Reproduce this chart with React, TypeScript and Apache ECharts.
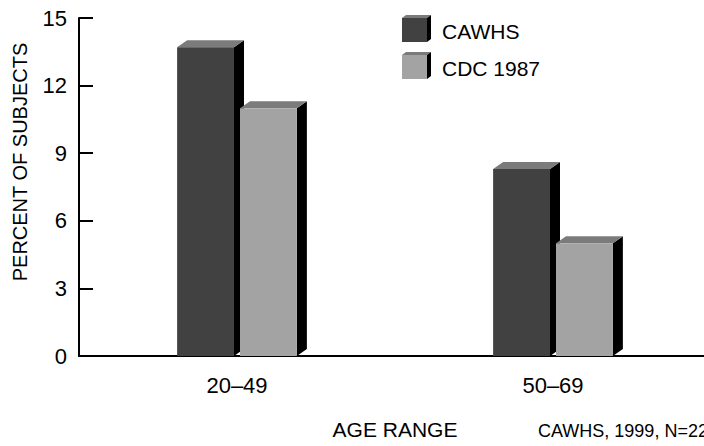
import React, { useEffect, useRef } from "react";
import * as echarts from "echarts";

const categories = ["20–49", "50–69"];
const seriesNames = ["CAWHS", "CDC 1987"];
const cawhsValues = [13.7, 8.3];
const cdcValues = [11.0, 5.0];
const yTicks = { min: 0, max: 15, interval: 3 };
const yTitle = "PERCENT OF SUBJECTS";
const xTitle = "AGE RANGE";
const note = "CAWHS, 1999, N=229";

const FONT = "'Liberation Sans', Arial, sans-serif";
const frontColors = ["#414141", "#a3a3a3"];
const topColor = "#7b7b7b";
const sideColor = "#000000";

function makeRender(seriesIdx: number) {
  return (params: any, api: any) => {
    const cat = api.value(0);
    const val = api.value(1);
    const band = api.size([1, 0])[0];
    const barW = band * 0.18;
    const gap = band * 0.019;
    const center = api.coord([cat, val]);
    const base = api.coord([cat, 0])[1];
    const offset = seriesIdx === 0 ? -(barW + gap) / 2 : (barW + gap) / 2;
    const x0 = center[0] + offset - barW / 2;
    const x1 = x0 + barW;
    const yT = center[1];
    const dx = 10;
    const dy = 7;
    return {
      type: "group",
      children: [
        {
          type: "polygon",
          shape: { points: [[x1, yT], [x1 + dx, yT - dy], [x1 + dx, base - dy], [x1, base]] },
          style: { fill: sideColor },
        },
        {
          type: "polygon",
          shape: { points: [[x0, yT], [x0 + dx, yT - dy], [x1 + dx, yT - dy], [x1, yT]] },
          style: { fill: topColor },
        },
        {
          type: "rect",
          shape: { x: x0, y: yT, width: barW, height: base - yT },
          style: { fill: frontColors[seriesIdx] },
        },
      ],
    };
  };
}

export default function App() {
  const ref = useRef<HTMLDivElement>(null);
  useEffect(() => {
    if (!ref.current) return;
    const chart = echarts.init(ref.current, undefined, { renderer: "svg" });
    const legendItem = (top: number, idx: number) => [
      {
        type: "polygon",
        shape: { points: [[402, top], [406, top - 3], [431, top - 3], [427, top]] },
        style: { fill: topColor },
      },
      {
        type: "polygon",
        shape: { points: [[427, top], [431, top - 3], [431, top + 21], [427, top + 24]] },
        style: { fill: sideColor },
      },
      {
        type: "rect",
        shape: { x: 402, y: top, width: 25, height: 24 },
        style: { fill: frontColors[idx] },
      },
      {
        type: "text",
        x: 442,
        y: top + 13,
        style: {
          text: seriesNames[idx],
          fontSize: 21,
          fontFamily: FONT,
          fill: "#000",
          align: "left",
          verticalAlign: "middle",
        },
      },
    ];
    chart.setOption({
      animation: false,
      textStyle: { fontFamily: FONT },
      grid: { left: 79, top: 18, width: 632, height: 338, outerBoundsMode: "none", containLabel: false },
      xAxis: {
        type: "category",
        data: categories,
        name: xTitle,
        nameLocation: "middle",
        nameGap: 63,
        nameTextStyle: { fontSize: 21, color: "#000", fontFamily: FONT },
        axisLine: { lineStyle: { color: "#000", width: 2 } },
        axisTick: { inside: true, length: 5, lineStyle: { color: "#000", width: 1.5 } },
        axisLabel: { fontSize: 22, color: "#000", margin: 18, fontFamily: FONT },
        splitLine: { show: false },
      },
      yAxis: {
        type: "value",
        min: yTicks.min,
        max: yTicks.max,
        interval: yTicks.interval,
        axisLine: { show: true, lineStyle: { color: "#000", width: 2 } },
        axisTick: { show: true, inside: true, length: 14, lineStyle: { color: "#000", width: 2 } },
        axisLabel: { fontSize: 22, color: "#000", margin: 12, fontFamily: FONT },
        splitLine: { show: false },
      },
      graphic: [
        ...legendItem(18, 0),
        ...legendItem(55, 1),
        {
          type: "text",
          x: 20,
          y: 162,
          rotation: Math.PI / 2,
          style: {
            text: yTitle,
            fontSize: 20,
            fontFamily: FONT,
            fill: "#000",
            align: "center",
            verticalAlign: "middle",
          },
        },
        {
          type: "text",
          x: 538,
          y: 431,
          style: {
            text: note,
            fontSize: 18,
            fontFamily: FONT,
            fill: "#000",
            align: "left",
            verticalAlign: "middle",
          },
        },
      ],
      series: [
        {
          type: "custom",
          name: seriesNames[0],
          itemStyle: { color: frontColors[0] },
          encode: { x: 0, y: 1 },
          data: cawhsValues.map((v, i) => [i, v]),
          renderItem: makeRender(0),
        },
        {
          type: "custom",
          name: seriesNames[1],
          itemStyle: { color: frontColors[1] },
          encode: { x: 0, y: 1 },
          data: cdcValues.map((v, i) => [i, v]),
          renderItem: makeRender(1),
        },
      ],
    });
    return () => chart.dispose();
  }, []);
  return (
    <div
      ref={ref}
      style={{ position: "fixed", left: 0, top: 0, width: 704, height: 446, background: "#fff" }}
    />
  );
}
